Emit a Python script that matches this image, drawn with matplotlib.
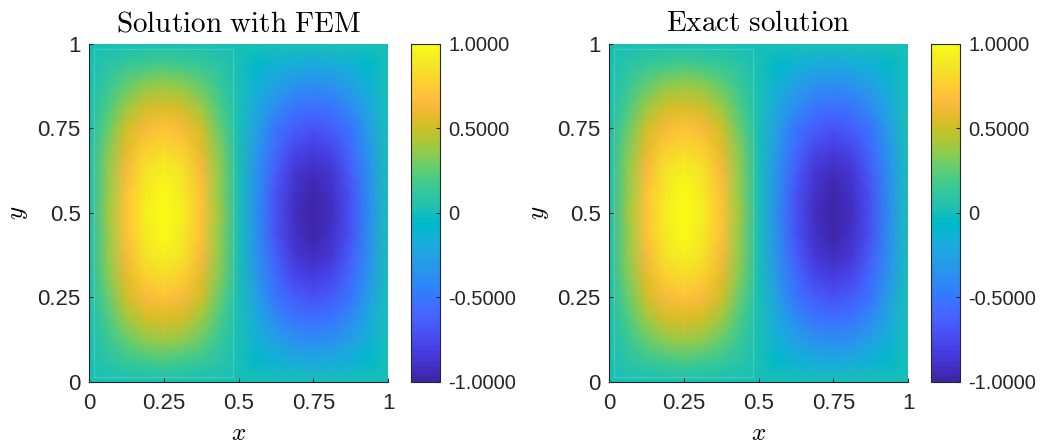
import numpy as np
import matplotlib
matplotlib.use("Agg")
import matplotlib.pyplot as plt
from matplotlib.colors import ListedColormap

plt.rcParams['font.family'] = ['Liberation Sans', 'DejaVu Sans']
plt.rcParams['mathtext.fontset'] = 'cm'

# ---- data ----
nodes = [i / 16 for i in range(17)]
x_profile = [0, 0.38, 0.71, 0.92, 1.0, 0.92, 0.71, 0.38, 0,
             -0.38, -0.71, -0.92, -1.0, -0.92, -0.71, -0.38, 0]
y_profile = [0, 0.20, 0.38, 0.56, 0.71, 0.83, 0.92, 0.98, 1.0,
             0.98, 0.92, 0.83, 0.71, 0.56, 0.38, 0.20, 0]
titles = ["Solution with FEM", "Exact solution"]
ticks = [0, 0.25, 0.5, 0.75, 1]
tick_labels = ["0", "0.25", "0.5", "0.75", "1"]
cbar_ticks = [-1, -0.5, 0, 0.5, 1]
cbar_labels = ["-1.0000", "-0.5000", "0", "0.5000", "1.0000"]

parula_data = [
    [0.2422, 0.1504, 0.6603], [0.2504, 0.1650, 0.7076], [0.2578, 0.1818, 0.7511],
    [0.2647, 0.1978, 0.7952], [0.2706, 0.2147, 0.8364], [0.2751, 0.2342, 0.8710],
    [0.2783, 0.2559, 0.8991], [0.2803, 0.2782, 0.9221], [0.2813, 0.3006, 0.9414],
    [0.2810, 0.3228, 0.9579], [0.2795, 0.3447, 0.9717], [0.2760, 0.3667, 0.9829],
    [0.2699, 0.3892, 0.9906], [0.2602, 0.4123, 0.9952], [0.2440, 0.4358, 0.9988],
    [0.2206, 0.4603, 0.9973], [0.1963, 0.4847, 0.9892], [0.1834, 0.5074, 0.9798],
    [0.1786, 0.5289, 0.9682], [0.1764, 0.5499, 0.9520], [0.1687, 0.5703, 0.9359],
    [0.1540, 0.5902, 0.9218], [0.1460, 0.6091, 0.9079], [0.1380, 0.6276, 0.8973],
    [0.1248, 0.6459, 0.8883], [0.1113, 0.6635, 0.8763], [0.0952, 0.6798, 0.8598],
    [0.0689, 0.6948, 0.8394], [0.0297, 0.7082, 0.8163], [0.0036, 0.7203, 0.7917],
    [0.0067, 0.7312, 0.7660], [0.0433, 0.7411, 0.7394], [0.0964, 0.7500, 0.7120],
    [0.1408, 0.7584, 0.6842], [0.1717, 0.7670, 0.6554], [0.1938, 0.7758, 0.6251],
    [0.2161, 0.7843, 0.5923], [0.2470, 0.7918, 0.5567], [0.2906, 0.7973, 0.5188],
    [0.3406, 0.8008, 0.4789], [0.3909, 0.8029, 0.4354], [0.4456, 0.8024, 0.3909],
    [0.5044, 0.7993, 0.3480], [0.5616, 0.7942, 0.3045], [0.6174, 0.7876, 0.2612],
    [0.6720, 0.7793, 0.2227], [0.7242, 0.7698, 0.1910], [0.7738, 0.7598, 0.1646],
    [0.8203, 0.7498, 0.1535], [0.8634, 0.7406, 0.1596], [0.9035, 0.7330, 0.1774],
    [0.9393, 0.7288, 0.2100], [0.9728, 0.7298, 0.2394], [0.9956, 0.7434, 0.2371],
    [0.9970, 0.7659, 0.2199], [0.9952, 0.7893, 0.2028], [0.9892, 0.8136, 0.1885],
    [0.9786, 0.8386, 0.1766], [0.9676, 0.8639, 0.1643], [0.9610, 0.8890, 0.1537],
    [0.9597, 0.9135, 0.1423], [0.9628, 0.9373, 0.1265], [0.9691, 0.9606, 0.1064],
    [0.9769, 0.9839, 0.0805]]
parula = ListedColormap(parula_data, name="parula")

X, Y = np.meshgrid(nodes, nodes)
U = np.outer(y_profile, x_profile)

fig = plt.figure(figsize=(10.42, 4.46), dpi=100)
axes_pos = [[0.0854, 0.1435, 0.287, 0.758], [0.5845, 0.1435, 0.287, 0.758]]
cbar_pos = [[0.3944, 0.1435, 0.0278, 0.758], [0.8935, 0.1435, 0.0278, 0.758]]
tc = '#262626'

for k in range(2):
    ax = fig.add_axes(axes_pos[k])
    m = ax.pcolormesh(X, Y, U, cmap=parula, shading='gouraud', vmin=-1, vmax=1)
    ax.plot([0.017, 0.48, 0.48, 0.017, 0.017], [0.015, 0.015, 0.985, 0.985, 0.015],
            color='white', lw=0.6, alpha=0.22)
    ax.set_xlim(0, 1)
    ax.set_ylim(0, 1)
    ax.set_xticks(ticks)
    ax.set_xticklabels(tick_labels)
    ax.set_yticks(ticks)
    ax.set_yticklabels(tick_labels)
    ax.tick_params(direction='in', length=3, labelsize=16, colors=tc)
    ax.tick_params(axis='x', pad=8)
    ax.tick_params(axis='y', pad=6)
    for s in ['top', 'right']:
        ax.spines[s].set_visible(False)
    for s in ['left', 'bottom']:
        ax.spines[s].set_color(tc)
        ax.spines[s].set_linewidth(0.8)
    ax.set_title(r'$\mathrm{' + titles[k].replace(' ', r'\ ') + '}$', fontsize=21, pad=9)
    ax.set_xlabel('$x$', fontsize=18, labelpad=5)
    ax.set_ylabel('$y$', fontsize=18, labelpad=5)

    cax = fig.add_axes(cbar_pos[k])
    cb = fig.colorbar(m, cax=cax, ticks=cbar_ticks)
    cb.ax.set_yticklabels(cbar_labels)
    cb.ax.tick_params(direction='in', length=3, labelsize=14.5, colors=tc, pad=6)
    cb.outline.set_edgecolor(tc)
    cb.outline.set_linewidth(0.8)

fig.savefig('out.png', dpi=100)
